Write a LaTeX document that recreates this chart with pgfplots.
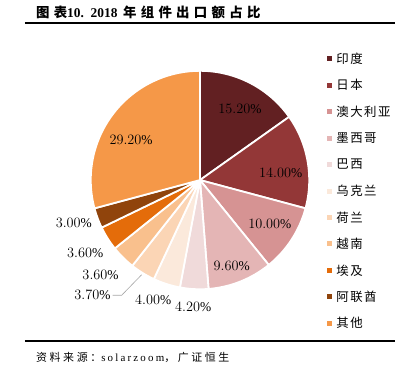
\documentclass[border=0pt]{standalone}
\usepackage{pgfplots}
\pgfplotsset{compat=1.18}
\usepackage{pgfplotstable}
\usepackage{fontspec}
\setmainfont{Liberation Serif}
\newfontfamily\cjk{Noto Sans CJK SC}
\newfontfamily\cjkleg[LetterSpace=12]{Noto Sans CJK SC}
\newfontfamily\cjktitle[LetterSpace=32]{Noto Sans CJK SC}
\newfontfamily\cjksrc[LetterSpace=24]{Noto Sans CJK SC}
\newfontfamily\latsrc[LetterSpace=20]{Liberation Serif}

\definecolor{c0}{RGB}{98,32,34}
\definecolor{c1}{RGB}{147,55,55}
\definecolor{c2}{RGB}{214,147,147}
\definecolor{c3}{RGB}{228,181,181}
\definecolor{c4}{RGB}{240,218,218}
\definecolor{c5}{RGB}{251,233,219}
\definecolor{c6}{RGB}{251,213,181}
\definecolor{c7}{RGB}{249,192,141}
\definecolor{c8}{RGB}{228,108,10}
\definecolor{c9}{RGB}{144,68,12}
\definecolor{c10}{RGB}{245,152,72}
\definecolor{leader}{RGB}{166,166,166}

\pgfplotstableread[col sep=comma]{
name,value,labr,dang
印度,15.2,0.749,-1.9
日本,14.0,0.742,-4.9
澳大利亚,10.0,0.753,1.1
墨西哥,9.6,0.840,-1.5
巴西,4.2,1.166,0
乌克兰,4.0,1.178,-3.5
荷兰,3.7,1.447,-11.6
越南,3.6,1.260,-1.5
埃及,3.6,1.247,0.3
阿联酋,3.0,1.219,-1.8
其他,29.2,0.731,7.1
}\piedata

\begin{document}
\begin{tikzpicture}
\pgfplotstablegetrowsof{\piedata}
\pgfmathtruncatemacro{\N}{\pgfplotsretval-1}
\begin{axis}[
  hide axis, scale only axis,
  x=1bp, y=1bp,
  xmin=0, xmax=396, ymin=0, ymax=368,
  clip=false,
]
\pgfplotsextra{%
  \path (axis cs:0,0) rectangle (axis cs:396,368);
  \def\total{0}%
  \pgfplotsforeachungrouped \i in {0,...,\N}{%
    \pgfplotstablegetelem{\i}{value}\of{\piedata}%
    \pgfmathsetmacro{\total}{\total+\pgfplotsretval}%
  }%
  \def\cum{0}%
  \def\R{109.5}%
  \pgfplotsforeachungrouped \i in {0,...,\N}{%
    \pgfplotstablegetelem{\i}{value}\of{\piedata}\let\val\pgfplotsretval
    \pgfplotstablegetelem{\i}{labr}\of{\piedata}\let\lr\pgfplotsretval
    \pgfplotstablegetelem{\i}{dang}\of{\piedata}\let\da\pgfplotsretval
    \pgfplotstablegetelem{\i}{name}\of{\piedata}\let\nm\pgfplotsretval
    \pgfmathsetmacro{\sa}{90-\cum/\total*360}%
    \pgfmathsetmacro{\cum}{\cum+\val}%
    \pgfmathsetmacro{\ea}{90-\cum/\total*360}%
    \pgfmathsetmacro{\ma}{(\sa+\ea)/2}%
    \pgfmathsetmacro{\la}{\ma+\da}%
    \pgfmathsetmacro{\lx}{200.5+\R*\lr*cos(\la)}%
    \pgfmathsetmacro{\ly}{187.5+\R*\lr*sin(\la)}%
    \filldraw[fill=c\i, draw=white, line width=1.8bp, line join=round]
      (axis cs:200.5,187.5) -- ++(\sa:\R bp)
      arc[start angle=\sa, end angle=\ea, radius=\R bp] -- cycle;
    \ifnum\i=6
      \pgfmathsetmacro{\ex}{200.5+(\R+2)*cos(\ma)}%
      \pgfmathsetmacro{\ey}{187.5+(\R+2)*sin(\ma)}%
      \draw[leader, line width=0.6bp] (axis cs:\ex,\ey) -- (axis cs:122,72) -- (axis cs:113,72);
      \node[anchor=east, inner sep=0pt, font=\fontsize{13.5}{15}\selectfont]
        at (axis cs:111,72) {\pgfmathprintnumber[fixed,fixed zerofill,precision=2]{\val}\%};
    \else
      \node[inner sep=0pt, font=\fontsize{13.5}{15}\selectfont]
        at (axis cs:\lx,\ly) {\pgfmathprintnumber[fixed,fixed zerofill,precision=2]{\val}\%};
    \fi
    \pgfmathsetmacro{\gy}{309-26.5*\i}%
    \fill[c\i] (axis cs:327.5,\gy) ++(0bp,-2.5bp) rectangle ++(5bp,5bp);
    \node[anchor=west, inner sep=0pt, font=\cjkleg\fontsize{12.5}{14}\selectfont]
      at (axis cs:337,\gy) {\nm};
  }%
  \node[anchor=west, inner sep=0pt] at (axis cs:36,356)
    {\bfseries\fontsize{13.5}{15}\selectfont{\cjktitle 图表}10.\ \ 2018\ \,{\cjktitle 年组件出口额占比}};
  \draw[line width=2bp] (axis cs:25,345.3) -- (axis cs:396,345.3);
  \draw[line width=2bp] (axis cs:25,26) -- (axis cs:396,26);
  \node[anchor=west, inner sep=0pt] at (axis cs:36,10)
    {\fontsize{11}{12}\selectfont{\cjksrc 资料来源：}{\latsrc solarzoom}{\cjksrc ，广证恒生}};
}
\end{axis}
\end{tikzpicture}
\end{document}
